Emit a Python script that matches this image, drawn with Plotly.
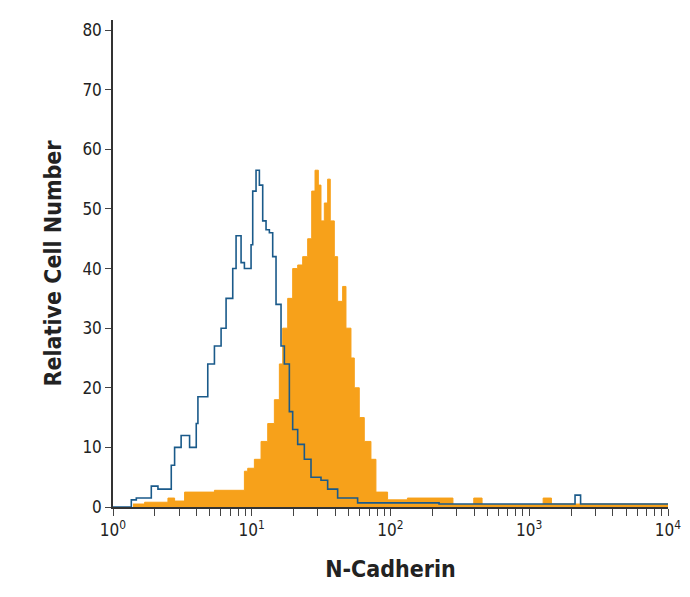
import plotly.graph_objects as go

# log10 positions (left edges of step bins) and counts
blue_log = [0.0, 0.132, 0.168, 0.276, 0.324, 0.42, 0.444, 0.491, 0.552, 0.6, 0.612, 0.683, 0.731, 0.779,
            0.815, 0.863, 0.887, 0.923, 0.947, 0.995, 1.007, 1.031, 1.055, 1.079, 1.103, 1.127, 1.151,
            1.175, 1.211, 1.235, 1.271, 1.295, 1.331, 1.379, 1.427, 1.499, 1.547, 1.619, 1.763, 2.0,
            2.35, 3.33, 3.37, 4.0]
blue_val = [0, 1.2, 1.5, 3.5, 3, 7, 10, 12, 10, 14, 18.5, 24, 27, 30,
            35, 40, 45.5, 41, 40, 44, 53, 56.5, 54, 48, 46.5, 46, 42,
            34, 27, 24, 16, 13, 10.5, 8, 5, 4.5, 3, 1.5, 0.7, 0.7,
            0.5, 2, 0.5, 0.5]

orange_log = [0.144, 0.228, 0.396, 0.444, 0.516, 0.731, 0.947, 0.971, 1.019, 1.067, 1.115, 1.163, 1.199,
              1.223, 1.259, 1.295, 1.331, 1.367, 1.403, 1.432, 1.456, 1.48, 1.499, 1.523, 1.547, 1.566,
              1.595, 1.619, 1.655, 1.679, 1.715, 1.739, 1.775, 1.811, 1.859, 1.895, 1.931, 1.979, 2.122,
              2.45, 2.6, 2.66, 3.1, 3.16, 4.0]
orange_val = [0.5, 0.8, 1.5, 1, 2.5, 2.8, 6, 6.5, 8, 11, 14, 18, 24,
              30, 35, 40, 40.6, 42, 45, 53, 56.5, 54, 48, 51, 55, 48,
              42, 34.5, 37, 30, 25, 20, 15, 11, 8, 2.5, 2.5, 1.2, 1.5,
              0.4, 1.5, 0.4, 1.5, 0.5, 0.5]

decades = [1, 10, 100, 1000, 10000]
decade_text = ["10<sup>0</sup>", "10<sup>1</sup>", "10<sup>2</sup>", "10<sup>3</sup>", "10<sup>4</sup>"]
y_ticks = [0, 10, 20, 30, 40, 50, 60, 70, 80]

tick_vals, tick_text = [], []
for i, d in enumerate(decades):
    tick_vals.append(d)
    tick_text.append(decade_text[i])
    if d < 10000:
        for m in range(2, 10):
            tick_vals.append(d * m)
            tick_text.append("")

font = "DejaVu Sans Condensed, Liberation Sans Narrow, sans-serif"
fig = go.Figure()
fig.add_trace(go.Scatter(x=[10**v for v in orange_log], y=orange_val, mode="lines", line_shape="hv",
                         fill="tozeroy", fillcolor="#f7a11a", line=dict(color="#f7a11a", width=1)))
fig.add_trace(go.Scatter(x=[10**v for v in blue_log], y=blue_val, mode="lines", line_shape="hv",
                         line=dict(color="#1a5a8a", width=1.6)))
fig.update_layout(
    width=690, height=597, showlegend=False, plot_bgcolor="white", paper_bgcolor="white",
    margin=dict(l=105, r=30, t=12, b=98), font=dict(family=font, size=17, color="#222"),
    xaxis=dict(type="log", range=[0, 4], tickvals=tick_vals, ticktext=tick_text, showgrid=False,
               showline=True, linecolor="#333", linewidth=1.5, ticks="outside", ticklen=7,
               automargin=False,
               title=dict(text="<b>N-Cadherin</b>", font=dict(size=23), standoff=22), zeroline=False),
    yaxis=dict(range=[0, 81.7], tickvals=y_ticks, showgrid=False, showline=True, linecolor="#333",
               linewidth=1.5, ticks="outside", ticklen=6, zeroline=False, automargin=False,
               title=dict(text="<b>Relative Cell Number</b>", font=dict(size=23), standoff=14)),
)
fig.write_html("out.html")
